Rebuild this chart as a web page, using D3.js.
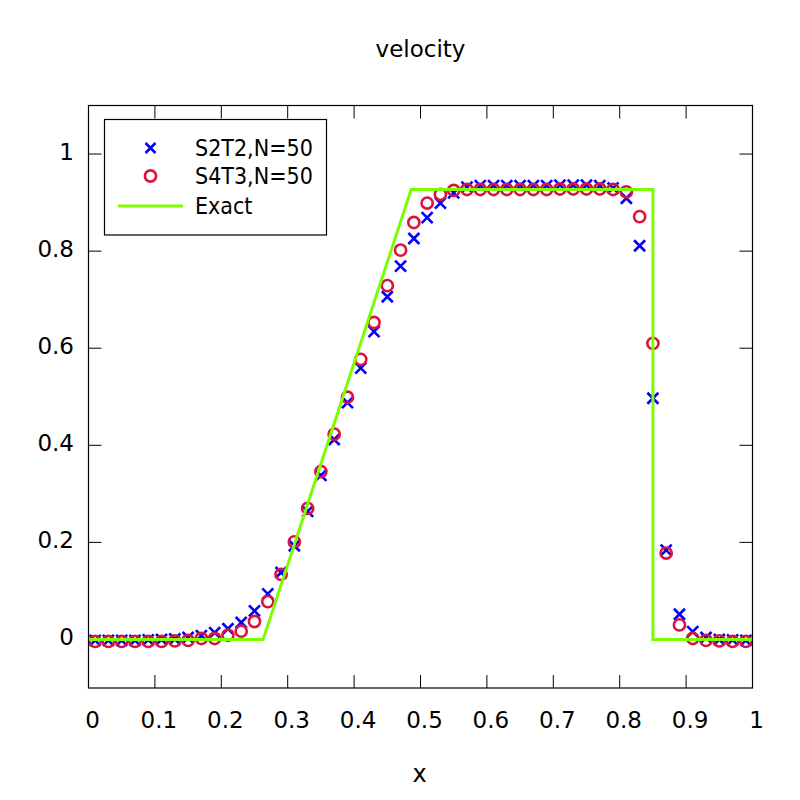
<!DOCTYPE html>
<html>
<head>
<meta charset="utf-8">
<script src="https://cdn.jsdelivr.net/npm/d3@7"></script>
<style>
  body { margin: 0; background: #fff; }
  svg { display: block; font-family: "DejaVu Sans", sans-serif; }
  .cond { font-family: "DejaVu Sans Condensed", "DejaVu Sans", sans-serif; font-stretch: condensed; }
</style>
</head>
<body>
<div id="chart"></div>
<script>
// --- data ---
const xCells = [0.01, 0.03, 0.05, 0.07, 0.09, 0.11, 0.13, 0.15, 0.17, 0.19,
                0.21, 0.23, 0.25, 0.27, 0.29, 0.31, 0.33, 0.35, 0.37, 0.39,
                0.41, 0.43, 0.45, 0.47, 0.49, 0.51, 0.53, 0.55, 0.57, 0.59,
                0.61, 0.63, 0.65, 0.67, 0.69, 0.71, 0.73, 0.75, 0.77, 0.79,
                0.81, 0.83, 0.85, 0.87, 0.89, 0.91, 0.93, 0.95, 0.97, 0.99];

const s2t2 = [-0.002, -0.002, -0.002, -0.002, -0.001, 0.000, 0.001, 0.004, 0.008, 0.014,
              0.022, 0.035, 0.059, 0.094, 0.138, 0.193, 0.264, 0.338, 0.412, 0.488,
              0.559, 0.634, 0.706, 0.769, 0.826, 0.869, 0.899, 0.920, 0.932, 0.935,
              0.935, 0.935, 0.935, 0.935, 0.935, 0.936, 0.936, 0.936, 0.935, 0.930,
              0.909, 0.811, 0.497, 0.184, 0.052, 0.016, 0.004, 0.000, -0.001, -0.002];

const s4t3 = [-0.004, -0.004, -0.004, -0.004, -0.004, -0.004, -0.003, -0.002, 0.002, 0.002,
              0.009, 0.017, 0.037, 0.078, 0.134, 0.201, 0.270, 0.346, 0.423, 0.499,
              0.577, 0.653, 0.729, 0.802, 0.859, 0.899, 0.917, 0.925, 0.927, 0.927,
              0.927, 0.927, 0.927, 0.927, 0.927, 0.928, 0.928, 0.928, 0.928, 0.927,
              0.922, 0.871, 0.610, 0.178, 0.030, 0.002, -0.002, -0.003, -0.004, -0.004];

const exactX = [0, 0.263, 0.486, 0.850, 0.850, 1];
const exactU = [0, 0, 0.927, 0.927, 0, 0];

const xTicks = [0, 0.1, 0.2, 0.3, 0.4, 0.5, 0.6, 0.7, 0.8, 0.9, 1];
const yTicks = [0, 0.2, 0.4, 0.6, 0.8, 1];
const seriesNames = ["S2T2,N=50", "S4T3,N=50", "Exact"];

// --- layout ---
const W = 800, H = 800;
const pLeft = 88.5, pRight = 752.5, pTop = 105.5, pBottom = 688;

const svg = d3.select("#chart").append("svg")
    .attr("width", W).attr("height", H);

const x = d3.scaleLinear().domain([0, 1]).range([pLeft, pRight]);
const y = d3.scaleLinear().domain([-0.1, 1.1]).range([pBottom, pTop]);

// ticks (inside, mirrored)
const tickLen = 13;
const tk = svg.append("g").attr("stroke", "#000").attr("stroke-width", 1);
xTicks.forEach(t => {
    tk.append("line").attr("x1", x(t)).attr("x2", x(t)).attr("y1", pBottom).attr("y2", pBottom - tickLen);
    tk.append("line").attr("x1", x(t)).attr("x2", x(t)).attr("y1", pTop).attr("y2", pTop + tickLen);
});
yTicks.forEach(t => {
    tk.append("line").attr("x1", pLeft).attr("x2", pLeft + tickLen).attr("y1", y(t)).attr("y2", y(t));
    tk.append("line").attr("x1", pRight).attr("x2", pRight - tickLen).attr("y1", y(t)).attr("y2", y(t));
});

// tick labels
const fmt = d3.format("~g");
svg.append("g").selectAll("text").data(xTicks).join("text")
    .attr("x", d => x(d) + 4).attr("y", 728)
    .attr("text-anchor", "middle")
    .style("font-size", "23px")
    .text(d => fmt(d));
svg.append("g").selectAll("text").data(yTicks).join("text")
    .attr("x", 74).attr("y", d => y(d) + 6)
    .attr("text-anchor", "end")
    .style("font-size", "23px")
    .text(d => fmt(d));

// titles
svg.append("text").attr("x", 420.5).attr("y", 57)
    .attr("text-anchor", "middle").style("font-size", "23px").text("velocity");
svg.append("text").attr("x", 419.5).attr("y", 781.5)
    .attr("text-anchor", "middle").style("font-size", "24px").text("x");

// markers
const blue = "#0000ff", red = "#dc143c", green = "#7cfc00";

function cross(g, cx, cy, s) {
    g.append("path")
        .attr("d", `M${cx - s},${cy - s}L${cx + s},${cy + s}M${cx - s},${cy + s}L${cx + s},${cy - s}`)
        .attr("stroke", blue).attr("stroke-width", 2.6).attr("fill", "none");
}
function ring(g, cx, cy) {
    g.append("circle").attr("cx", cx).attr("cy", cy).attr("r", 5.6)
        .attr("stroke", red).attr("stroke-width", 2.6).attr("fill", "none");
}

const plot = svg.append("g");
xCells.forEach((v, i) => cross(plot, x(v), y(s2t2[i]), 5.5));
xCells.forEach((v, i) => ring(plot, x(v), y(s4t3[i])));

const line = d3.line().x(d => x(d[0])).y(d => y(d[1]));
plot.append("path")
    .attr("d", line(exactX.map((v, i) => [v, exactU[i]])))
    .attr("stroke", green).attr("stroke-width", 3).attr("fill", "none");

// frame
svg.append("rect").attr("x", pLeft).attr("y", pTop)
    .attr("width", pRight - pLeft).attr("height", pBottom - pTop)
    .attr("fill", "none").attr("stroke", "#000").attr("stroke-width", 1.2);

// legend
const lg = svg.append("g");
lg.append("rect").attr("x", 104.5).attr("y", 119.5).attr("width", 222).attr("height", 115.5)
    .attr("fill", "none").attr("stroke", "#000").attr("stroke-width", 1.2);
const rowY = [148, 176, 206];
cross(lg, 150.5, rowY[0], 5);
ring(lg, 150.5, rowY[1]);
lg.append("line").attr("x1", 118).attr("x2", 183).attr("y1", rowY[2]).attr("y2", rowY[2])
    .attr("stroke", green).attr("stroke-width", 3);
seriesNames.forEach((n, i) => {
    lg.append("text").attr("class", "cond").attr("x", 195).attr("y", rowY[i] + 8)
        .style("font-size", "23px").text(n);
});
</script>
</body>
</html>
